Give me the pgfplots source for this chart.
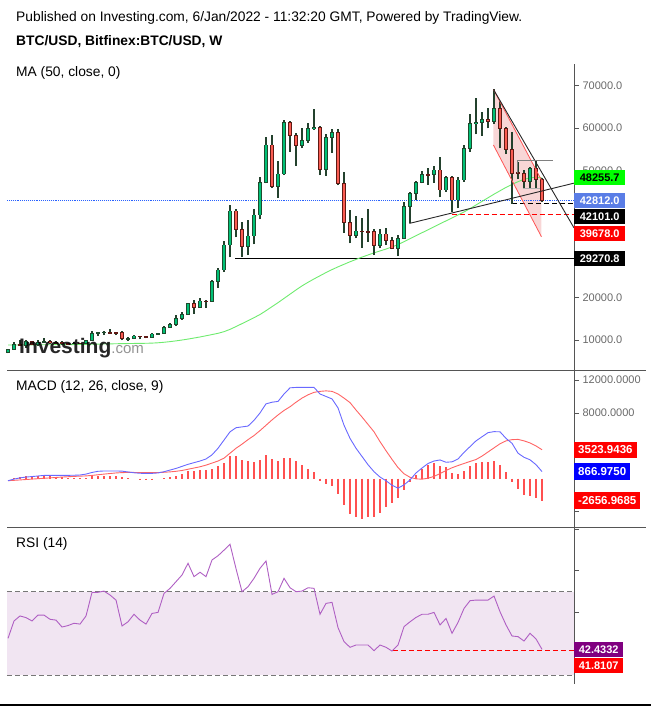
\documentclass[border=0pt]{standalone}
\usepackage{pgfplots}
\pgfplotsset{compat=1.18}
\usepackage{pgfplotstable}
\usepackage{fontspec}
\setmainfont{Liberation Sans}

\definecolor{gfill}{RGB}{0,192,118}
\definecolor{gedge}{RGB}{30,75,45}
\definecolor{rfill}{RGB}{250,92,82}
\definecolor{redge}{RGB}{95,25,20}
\definecolor{wick}{RGB}{35,65,45}
\definecolor{maline}{RGB}{110,235,110}
\definecolor{macdblue}{RGB}{105,105,255}
\definecolor{macdred}{RGB}{255,100,100}
\definecolor{histred}{RGB}{255,80,80}
\definecolor{rsiline}{RGB}{175,95,195}
\definecolor{rsiband}{RGB}{241,229,242}
\definecolor{chan}{RGB}{248,214,214}
\definecolor{chanline}{RGB}{255,85,85}
\definecolor{dotblue}{RGB}{41,98,255}
\definecolor{boxblue}{RGB}{90,125,230}
\definecolor{axgray}{RGB}{85,85,85}
\definecolor{lblgray}{RGB}{105,105,105}
\definecolor{lime}{RGB}{0,255,0}
\definecolor{purp}{RGB}{128,0,128}

\pgfplotstableread{
x o h l c ma
-37 7120 7780 6800 7700 8800
-36 7700 9450 7650 8900 8810
-35 8900 10000 8700 8720 8820
-34 8720 9950 8200 9680 8830
-33 9680 9860 8700 8900 8840
-32 8900 9990 8630 9450 8850
-31 9450 10400 9250 9650 8860
-30 9650 10000 9100 9380 8870
-29 9380 9640 9200 9300 8880
-28 9300 9800 8900 9120 8890
-27 9120 9300 8950 9090 8900
-26 9090 9480 9050 9230 8910
-25 9230 9350 9080 9160 8930
-24 9160 10100 9100 9930 8950
-23 9930 12100 9850 11550 8980
-22 11550 11900 11000 11700 9010
-21 11700 12100 11150 11850 9040
-20 11850 12480 11380 11650 9070
-19 11750 11800 11100 11650 9100
-18 11650 12090 9900 10250 9130
-17 10250 10600 9850 10330 9150
-16 10330 11100 10200 10930 9170
-15 10930 10990 10150 10780 9190
-14 10780 10950 10380 10680 9210
-13 10680 11700 10550 11400 9250
-12 11400 11720 11200 11500 9330
-11 11500 13350 11450 13030 9450
-10 13030 14100 12950 13550 9600
-9 13550 15970 13300 15000 9780
-8 15000 16500 14800 16100 9980
-7 16100 18800 15950 18700 10200
-6 18700 19400 16200 17700 10450
-5 17700 19900 17600 19190 10700
-4 19190 19400 17600 19050 10980
-3 19050 24250 19000 23750 11270
-2 23750 27000 22300 26500 11560
-1 26500 33350 26000 32400 11950
0 32400 41850 29500 40430 12500
1 40430 40800 34200 36100 13150
2 36100 37830 29490 32010 13850
3 32010 38300 30040 34530 14550
4 34530 40980 32560 39480 15250
5 39480 48370 38460 47190 16000
6 47190 57815 46960 56005 16900
7 56005 58440 45780 46170 17850
8 46170 52230 43570 49160 18800
9 49160 61800 48900 61350 19800
10 61350 61670 54430 58200 20800
11 58200 58915 51130 55850 21800
12 55850 59940 55220 57030 22750
13 57030 61120 56500 59940 23600
14 59940 64500 59600 60170 24400
15 60170 60400 48920 50260 25150
16 50260 58600 48690 57815 25900
17 57815 59700 54200 58990 26600
18 58990 59700 46500 46960 27250
19 46960 49550 35315 37750 27850
20 37750 40600 32800 34720 28450
21 34720 39250 33980 35710 29000
22 35710 38700 31770 35600 29550
23 35600 40900 33190 35550 30050
24 35550 36180 30040 32300 30550
25 32300 36100 31620 35000 31000
26 35000 36330 32400 33430 31450
27 33430 34370 31400 31620 31950
28 31620 34760 29800 34000 32500
29 34000 42630 33800 41600 33200
30 41600 44990 37520 44600 33900
31 44600 47580 43025 47190 34600
32 47190 49950 46960 49080 35300
33 49080 50500 46570 49000 36000
34 49000 51050 47110 50100 36700
35 50100 53100 43650 45380 37400
36 45380 48690 44990 48370 38100
37 48370 48600 40270 43025 38800
38 43025 48530 41050 47745 39500
39 47745 56000 47350 55215 40200
40 55215 63240 54430 61120 41000
41 61120 67020 58520 61350 41850
42 61350 63710 58200 62060 42700
43 62060 64660 59940 61590 43550
44 61590 69140 61000 64660 44400
45 64660 66470 55220 59940 45200
46 59940 60330 53880 54980 46000
47 54980 59150 42100 49310 46700
48 49500 52070 47900 49350 47350
49 49350 50100 45780 47350 47900
50 47350 50890 45780 50500 48250
51 50500 52300 45780 47900 48400
52 47900 48300 42630 42812 48256
}\price

\pgfplotstableread{
x m s h
-37 -240 -240 0
-36 -50 -200 40
-35 100 -150 200
-34 200 -100 280
-33 260 -50 360
-32 330 0 360
-31 400 50 360
-30 410 100 280
-29 410 150 200
-28 410 200 200
-27 410 240 120
-26 420 280 120
-25 450 310 40
-24 560 340 120
-23 760 400 280
-22 900 480 360
-21 940 560 360
-20 940 630 360
-19 940 700 360
-18 920 740 200
-17 820 760 120
-16 720 760 0
-15 660 750 -30
-14 640 740 -50
-13 650 740 -50
-12 700 750 0
-11 850 780 120
-10 1050 830 200
-9 1250 900 360
-8 1500 1000 600
-7 1750 1150 890
-6 1950 1300 890
-5 2150 1450 1010
-4 2400 1650 1010
-3 2900 1900 1220
-2 3700 2150 1500
-1 4700 2500 1900
0 5700 3100 2700
1 6200 3700 2800
2 6300 4200 2300
3 6400 4750 2100
4 7100 5250 1990
5 8000 5850 2300
6 9100 6500 2900
7 9300 7150 2430
8 9400 7750 2100
9 10300 8300 2550
10 11050 8750 2550
11 11100 9300 2100
12 11110 9800 1620
13 11110 10200 1200
14 11100 10500 770
15 10300 10620 -240
16 10000 10680 -650
17 9700 10620 -890
18 8600 10300 -1860
19 6500 9800 -3200
20 4900 9250 -4300
21 3700 8350 -4700
22 2700 7500 -4900
23 1700 6600 -4700
24 850 5700 -4620
25 200 4500 -4130
26 -250 3400 -3480
27 -800 2350 -3000
28 -1150 1350 -2390
29 -750 600 -1380
30 -150 170 -400
31 700 -20 450
32 1300 -60 1130
33 1850 60 1660
34 2150 280 1950
35 2280 620 1540
36 2000 1000 1380
37 2050 1330 730
38 2400 1600 570
39 3200 1850 970
40 3900 2100 1540
41 4600 2330 1860
42 5100 2750 2070
43 5600 3250 2070
44 5720 3750 2190
45 5700 4250 1660
46 4900 4600 810
47 4300 4750 -360
48 3100 4780 -1220
49 2600 4600 -1990
50 2300 4350 -2110
51 1700 3980 -2310
52 867 3524 -2657
}\macd

\pgfplotstableread{
x r
-37 47.7
-36 56.0
-35 58.4
-34 57.6
-33 56.0
-32 58.8
-31 58.8
-30 56.8
-29 56.4
-28 53.1
-27 53.8
-26 54.9
-25 54.5
-24 58.4
-23 69.7
-22 69.7
-21 70.3
-20 68.4
-19 66.0
-18 53.6
-17 55.6
-16 59.2
-15 56.4
-14 54.5
-13 59.6
-12 60.1
-11 69.2
-10 71.6
-9 74.8
-8 78.0
-7 83.6
-6 77.2
-5 79.3
-4 77.2
-3 85.2
-2 87.2
-1 89.9
0 92.7
1 81.0
2 70.0
3 72.4
4 76.4
5 81.2
6 84.7
7 68.7
8 70.0
9 76.4
10 71.9
11 70.0
12 70.3
13 71.9
14 71.6
15 59.2
16 64.4
17 64.9
18 52.8
19 46.1
20 43.4
21 44.5
22 44.5
23 44.5
24 41.8
25 44.5
26 43.4
27 41.6
28 44.5
29 53.3
30 55.6
31 57.7
32 59.2
33 59.2
34 60.1
35 54.1
36 57.2
37 50.1
38 55.3
39 62.0
40 65.7
41 66.0
42 66.0
43 66.0
44 67.9
45 60.4
46 54.1
47 48.8
48 48.5
49 46.4
50 50.1
51 47.4
52 42.4
}\rsi

\pgfplotsset{
  panel/.style={scale only axis, width=567pt, xmin=-37.17, xmax=57.33,
    axis x line=none, axis y line*=right,
    axis line style={draw=axgray, line width=0.8pt},
    tick align=outside, major tick length=5pt,
    scaled y ticks=false, scaled x ticks=false,
    ytick style={draw=axgray, line width=0.8pt},
    yticklabel style={font=\fontsize{11}{11}\selectfont, text=lblgray},
    clip=false},
}
\tikzset{
  lbl/.style={anchor=west, inner sep=0pt, minimum height=15pt, minimum width=51pt,
    font=\fontsize{11}{11}\selectfont\bfseries, text=white},
  lblw/.style={anchor=west, inner sep=4pt, minimum height=15pt,
    font=\fontsize{11.5}{11.5}\selectfont\bfseries, text=white},
  tvdash/.style={dash pattern=on 5pt off 3pt},
}

\begin{document}
\begin{tikzpicture}[x=1pt,y=1pt]
\path[use as bounding box] (0,0) rectangle (651,707);

\node[anchor=west, inner sep=0pt, font=\fontsize{13.8}{14}\selectfont] at (16,689) {Published on Investing.com, 6/Jan/2022 - 11:32:20 GMT, Powered by TradingView.};
\node[anchor=west, inner sep=0pt, font=\fontsize{13.8}{14}\selectfont\bfseries] at (16,665) {BTC/USD, Bitfinex:BTC/USD, W};

% ---------- main price panel ----------
\begin{axis}[panel, at={(7pt,337pt)}, anchor=south west, height=306pt,
  ymin=2905, ymax=75121,
  ytick={10000,20000,30000,40000,50000,60000,70000},
  yticklabels={10000.0,20000.0,,,50000.0,60000.0,70000.0}]
\addplot[fill=chan, draw=none, forget plot] coordinates {(43.9,69150) (51.9,47740) (51.9,34360) (43.9,56000)} -- cycle;
\addplot[dotblue, densely dotted, line width=0.9pt] coordinates {(-37.17,42812) (57.33,42812)};
\addplot[black, line width=0.9pt] coordinates {(0.83,29270.8) (57.33,29270.8)};
\addplot[red, tvdash, line width=0.9pt] coordinates {(36.95,39678) (57.33,39678)};
\addplot[black, tvdash, line width=0.9pt] coordinates {(47,42101) (57.33,42101)};
\addplot[maline, line width=0.9pt] table[x=x, y=ma] {\price};
% wicks
\addplot[draw=none, mark=none, error bars/.cd, y dir=plus, y explicit, error mark=none,
  error bar style={draw=wick, line width=1.1pt}]
  table[x=x, y=l, y error expr=\thisrow{h}-\thisrow{l}] {\price};
% green bodies
\addplot[draw=none, mark=none, error bars/.cd, y dir=both, y explicit, error mark=none,
  error bar style={draw=gedge, line width=4.4pt}]
  table[x=x, y expr={(\thisrow{o}+\thisrow{c})/2}, y error expr={(\thisrow{c}>=\thisrow{o}) ? (abs(\thisrow{c}-\thisrow{o})/2+110) : 0}] {\price};
\addplot[draw=none, mark=none, error bars/.cd, y dir=both, y explicit, error mark=none,
  error bar style={draw=gfill, line width=2.8pt}]
  table[x=x, y expr={(\thisrow{o}+\thisrow{c})/2}, y error expr={(\thisrow{c}>=\thisrow{o}) ? max(abs(\thisrow{c}-\thisrow{o})/2-110,0) : 0}] {\price};
% red bodies
\addplot[draw=none, mark=none, error bars/.cd, y dir=both, y explicit, error mark=none,
  error bar style={draw=redge, line width=4.4pt}]
  table[x=x, y expr={(\thisrow{o}+\thisrow{c})/2}, y error expr={(\thisrow{c}<\thisrow{o}) ? (abs(\thisrow{c}-\thisrow{o})/2+110) : 0}] {\price};
\addplot[draw=none, mark=none, error bars/.cd, y dir=both, y explicit, error mark=none,
  error bar style={draw=rfill, line width=2.8pt}]
  table[x=x, y expr={(\thisrow{o}+\thisrow{c})/2}, y error expr={(\thisrow{c}<\thisrow{o}) ? max(abs(\thisrow{c}-\thisrow{o})/2-110,0) : 0}] {\price};
% drawings
\addplot[chanline, line width=0.8pt] coordinates {(43.9,69150) (51.9,47740)};
\addplot[chanline, line width=0.8pt] coordinates {(43.9,56000) (51.9,34360)};
\addplot[black!85, line width=0.9pt] coordinates {(29.9,37500) (57.33,47000)};
\addplot[black!85, line width=0.9pt] coordinates {(43.9,69150) (57.33,36450)};
\addplot[gray, line width=1pt] coordinates {(47.9,49330) (47.9,52230) (53.9,52230)};
\addplot[gray!60, line width=1pt] coordinates {(48.9,45786) (51.7,45786)};
% price labels
\node[lbl, fill=lime, text=black] at (axis cs:57.33,48255.7) {48255.7};
\node[lbl, fill=boxblue] at (axis cs:57.33,42812) {42812.0};
\node[lbl, fill=black] at (axis cs:57.33,39013) {42101.0};
\node[lbl, fill=red] at (axis cs:57.33,35072) {39678.0};
\node[lbl, fill=black] at (axis cs:57.33,29270.8) {29270.8};
\end{axis}

\node[anchor=west, inner sep=0pt, font=\fontsize{13.8}{14}\selectfont] at (16,634) {MA (50, close, 0)};
\node[anchor=base west, inner sep=0pt, opacity=0.85] at (19,353) {\fontsize{21}{21}\selectfont\bfseries Investing\fontsize{15}{15}\selectfont\mdseries\color{gray}.com};

% ---------- MACD panel ----------
\begin{axis}[panel, at={(7pt,180pt)}, anchor=south west, height=157pt,
  ymin=-5873, ymax=13218,
  ytick={-4000,0,4000,8000,12000},
  yticklabels={,,,8000.0000,12000.0000}]
\addplot[ycomb, draw=histred, line width=1.2pt, mark=none] table[x=x, y=h] {\macd};
\addplot[macdred, line width=0.9pt] table[x=x, y=s] {\macd};
\addplot[macdblue, line width=0.9pt] table[x=x, y=m] {\macd};
\node[lblw, fill=red] at (axis cs:57.33,3523.9) {3523.9436};
\node[lblw, fill=blue] at (axis cs:57.33,867) {866.9750};
\node[lblw, fill=red] at (axis cs:57.33,-2657) {-2656.9685};
\end{axis}
\node[anchor=west, inner sep=0pt, font=\fontsize{13.8}{14}\selectfont] at (16,320) {MACD (12, 26, close, 9)};

% ---------- RSI panel ----------
\begin{axis}[panel, at={(7pt,23pt)}, anchor=south west, height=157pt,
  ymin=25.84, ymax=100.96,
  axis x line*=bottom,
  ytick={40,60,80,100}, yticklabels={,,,},
  xtick={-26,-13,0,13,26,39,52},
  xticklabels={Jul,Oct,\textbf{2021},Apr,Jul,Oct,\textbf{2022}},
  xtick style={draw=none},
  xticklabel style={font=\fontsize{11.5}{11.5}\selectfont, text=black!75}]
\addplot[fill=rsiband, draw=none, forget plot] coordinates {(-37.17,30) (57.33,30) (57.33,70) (-37.17,70)} -- cycle;
\addplot[axgray!80, tvdash, line width=0.8pt] coordinates {(-37.17,70) (57.33,70)};
\addplot[axgray!80, tvdash, line width=0.8pt] coordinates {(-37.17,30) (57.33,30)};
\addplot[red, tvdash, line width=0.9pt] coordinates {(27.15,41.81) (57.33,41.81)};
\addplot[rsiline, line width=0.9pt] table[x=x, y=r] {\rsi};
\node[lbl, fill=purp, minimum width=49pt] at (axis cs:57.33,42.43) {42.4332};
\node[lbl, fill=red, minimum width=49pt] at (axis cs:57.33,34.6) {41.8107};
\end{axis}
\node[anchor=west, inner sep=0pt, font=\fontsize{13.8}{14}\selectfont] at (16,163) {RSI (14)};

% panel separators and bottom rule
\draw[axgray, line width=0.8pt] (7,337) -- (646,337);
\draw[axgray, line width=0.8pt] (7,180) -- (646,180);
\draw[black, line width=2pt] (0,2) -- (651,2);
\end{tikzpicture}
\end{document}
